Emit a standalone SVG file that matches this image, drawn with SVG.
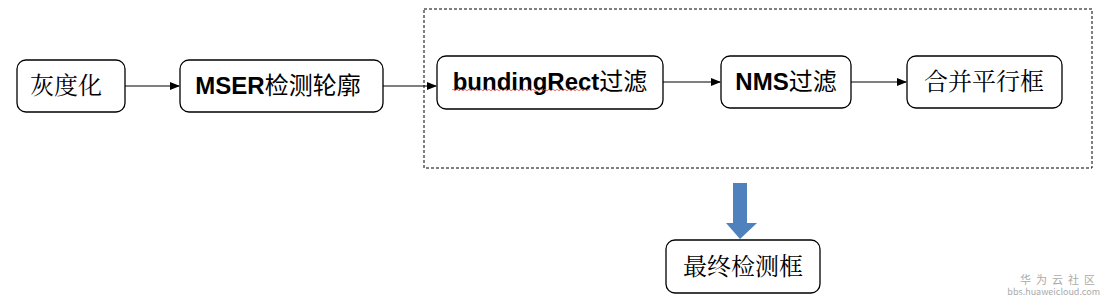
<svg xmlns="http://www.w3.org/2000/svg" width="1107" height="306" viewBox="0 0 1107 306">
<style>
.box{fill:#fff;stroke:#000;stroke-width:1.3}
.t{font-family:"Liberation Sans","Noto Sans CJK SC",sans-serif;font-size:24px;fill:#000;text-anchor:middle}
.b{font-weight:bold}
.c{font-family:"Noto Serif CJK SC","Noto Sans CJK SC",serif}
.ln{stroke:#000;stroke-width:1.2;fill:none}
.wm{font-family:"Noto Sans CJK SC","Liberation Sans",sans-serif;fill:#aaa;text-anchor:end}
</style>
<defs>
<marker id="ah" markerWidth="10" markerHeight="8" refX="9" refY="4" orient="auto" markerUnits="userSpaceOnUse">
<path d="M0,0 L10,4 L0,8 Z" fill="#000"/>
</marker>
</defs>
<rect width="1107" height="306" fill="#fff"/>
<rect x="424" y="9" width="668" height="159" fill="none" stroke="#000" stroke-width="1" stroke-dasharray="3,2"/>
<g id="connectors">
<line class="ln" x1="125" y1="86" x2="179" y2="86" marker-end="url(#ah)"/>
<line class="ln" x1="383" y1="86" x2="436" y2="86" marker-end="url(#ah)"/>
<line class="ln" x1="663" y1="82" x2="720" y2="82" marker-end="url(#ah)"/>
<line class="ln" x1="851" y1="82" x2="906" y2="82" marker-end="url(#ah)"/>
<path d="M733,183 H747 V223 H757 L740,239 L726,223 H733 Z" fill="#4f81bd"/>
</g>
<g id="n1"><rect class="box" x="17" y="60" width="108" height="52" rx="9"/><text class="t c" x="66" y="94">灰度化</text></g>
<g id="n2"><rect class="box" x="180" y="60" width="203" height="52" rx="9"/><text class="t" x="278" y="94"><tspan class="b">MSER</tspan>检测轮廓</text></g>
<g id="n3"><rect class="box" x="437" y="56" width="226" height="53" rx="9"/><text class="t" x="550" y="90"><tspan class="b">bundingRect</tspan>过滤</text>
<path d="M452,90 q1,-1.5 2,0 t2,0 t2,0 t2,0 t2,0 t2,0 t2,0 t2,0 t2,0 t2,0 t2,0 t2,0 t2,0 t2,0 t2,0 t2,0 t2,0 t2,0 t2,0 t2,0 t2,0 t2,0 t2,0 t2,0 t2,0 t2,0 t2,0 t2,0 t2,0 t2,0 t2,0 t2,0 t2,0 t2,0 t2,0 t2,0 t2,0 t2,0 t2,0 t2,0 t2,0 t2,0 t2,0 t2,0 t2,0 t2,0 t2,0 t2,0 t2,0 t2,0 t2,0 t2,0 t2,0 t2,0 t2,0 t2,0 t2,0 t2,0 t2,0 t2,0 t2,0 t2,0 t2,0 t2,0 t2,0 t2,0 t2,0 t2,0 t2,0" fill="none" stroke="#e05050" stroke-width="0.8"/></g>
<g id="n4"><rect class="box" x="721" y="56" width="130" height="52" rx="9"/><text class="t" x="786" y="90"><tspan class="b">NMS</tspan>过滤</text></g>
<g id="n5"><rect class="box" x="907" y="56" width="155" height="52" rx="9"/><text class="t c" x="984" y="90">合并平行框</text></g>
<g id="n6"><rect class="box" x="666" y="240" width="154" height="53" rx="9"/><text class="t c" x="743" y="275">最终检测框</text></g>
<text class="wm" x="1100" y="284" font-size="11" letter-spacing="5">华为云社区</text>
<text class="wm" x="1100" y="295" font-size="9">bbs.huaweicloud.com</text>
</svg>
